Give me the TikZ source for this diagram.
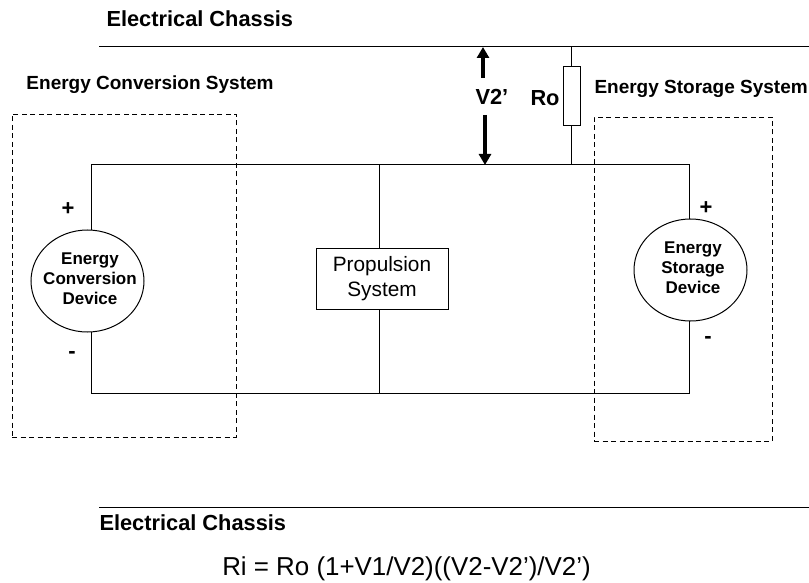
\documentclass[tikz,border=0pt]{standalone}
\usepackage{fontspec}
\setmainfont{Liberation Sans}
\usetikzlibrary{positioning,arrows.meta,shapes.geometric}
\begin{document}
\begin{tikzpicture}[x=1pt,y=-1pt,line width=1pt,
	boldlabel/.style={font=\bfseries\fontsize{19}{22}\selectfont, inner sep=0pt, anchor=base west},
	biglabel/.style={boldlabel, font=\bfseries\fontsize{21.8}{24}\selectfont},
	deviceshape/.style={draw, ellipse, fill=white, inner sep=0pt, minimum width=113pt, minimum height=102pt},
	devicelabel/.style={align=center, inner sep=0pt, font=\bfseries\fontsize{17}{20}\selectfont},
	dashbox/.style={draw, dashed, line width=0.8pt, dash pattern=on 5pt off 3.5pt, inner sep=0pt},
	signlabel/.style={font=\bfseries\fontsize{22}{24}\selectfont, inner sep=0pt},
	voltarrow/.style={-{Triangle[length=11pt,width=12pt]}, line width=3.5pt}]
	\useasboundingbox (0,0) rectangle (809,583);

	% chassis lines
	\coordinate (chassisL) at (99,47);
	\coordinate (chassisR) at (809,47);
	\coordinate (chassisbL) at (99,507);
	\coordinate (chassisbR) at (809,507);
	\draw (chassisL) -- (chassisR);
	\draw (chassisbL) -- (chassisbR);
	\node [biglabel] (top) at (106,27) {Electrical Chassis};
	\node [biglabel] (bottom) at (99,530) {Electrical Chassis};
	\node [boldlabel] (conv) at (26,90) {Energy Conversion System};
	\node [boldlabel] (stor) at (594,94) {Energy Storage System};

	% dashed boxes
	\node [dashbox, minimum width=224pt, minimum height=323pt] (convbox) at (124,275.5) {};
	\node [dashbox, minimum width=178pt, minimum height=324pt] (storbox) at (683,279) {};

	% circuit
	\coordinate (tl) at (91,165);
	\coordinate (tr) at (689,165);
	\coordinate (bl) at (91,393);
	\coordinate (br) at (689,393);
	\coordinate (midt) at (379.5,165);
	\coordinate (midb) at (379.5,393);
	\coordinate (rotop) at (571.5,47);
	\coordinate (robot) at (571.5,165);
	\draw (bl) -- (tl) -- (tr) -- (br) -- (bl);
	\draw (midt) -- (midb);
	\draw (rotop) -- (robot);

	\node [deviceshape] (ecd) at (87.5,281) {};
	\node [devicelabel] (ecdtext) at (90,279) {Energy\\Conversion\\Device};
	\node [deviceshape] (esd) at (690.5,270) {};
	\node [devicelabel] (esdtext) at (693,268) {Energy\\Storage\\Device};
	\node [draw, fill=white, align=center, minimum width=132pt, minimum height=61pt, inner sep=0pt, font=\fontsize{20.8}{25}\selectfont] (prop) at (382,278.5) {Propulsion\\System};
	\node [draw, fill=white, minimum width=17pt, minimum height=59pt, inner sep=0pt] (ro) at (571.5,96.5) {};

	\node [signlabel] (p1) at (68,209) {+};
	\node [signlabel] (m1) at (72,355) {-};
	\node [signlabel] (p2) at (706,208) {+};
	\node [signlabel] (m2) at (708,340) {-};
	\node [biglabel] (ro2) at (530,106) {Ro};
	\node [biglabel] (v2) at (475,105) {V2’};

	% voltage arrows
	\coordinate (vtop) at (483,47);
	\coordinate (vtopend) at (483,78);
	\coordinate (vbot) at (485,165);
	\coordinate (vbotend) at (485,115);
	\draw [voltarrow] (vtopend) -- (vtop);
	\draw [voltarrow] (vbotend) -- (vbot);

	\node [font=\fontsize{25.9}{28}\selectfont, inner sep=0pt, anchor=base] (eq) at (406.5,575) {Ri = Ro (1+V1/V2)((V2-V2’)/V2’)};
\end{tikzpicture}
\end{document}
